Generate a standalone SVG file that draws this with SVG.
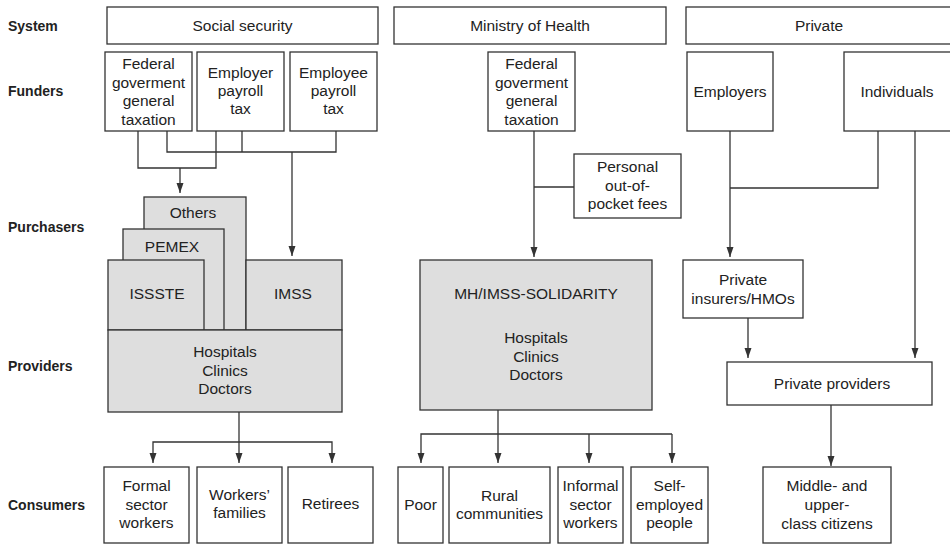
<svg xmlns="http://www.w3.org/2000/svg" width="950" height="544" viewBox="0 0 950 544">
<style>
.b{fill:#ffffff;stroke:#333333;stroke-width:1.3}
.g{fill:#dedede;stroke:#333333;stroke-width:1.3}
.t{font-family:"Liberation Sans",Arial,sans-serif;font-size:15.5px;fill:#222222;text-anchor:middle}
.l{font-family:"Liberation Sans",Arial,sans-serif;font-size:14px;font-weight:bold;fill:#222222}
.c{fill:none;stroke:#333333;stroke-width:1.3}
.a{marker-end:url(#ah)}
</style>
<defs>
<marker id="ah" markerUnits="userSpaceOnUse" markerWidth="10" markerHeight="8" refX="10" refY="4" orient="auto">
<path d="M0,0.5 L10,4 L0,7.5 z" fill="#333333"/>
</marker>
</defs>
<rect width="950" height="544" fill="#ffffff"/>

<g id="row-labels">
<text class="l" x="8" y="31">System</text>
<text class="l" x="8" y="96">Funders</text>
<text class="l" x="8" y="232">Purchasers</text>
<text class="l" x="8" y="371">Providers</text>
<text class="l" x="8" y="510">Consumers</text>
</g>

<g id="connectors">
<!-- social security funders -->
<polyline class="c" points="138,131 138,168 216,168 216,131"/>
<line class="c a" x1="180" y1="168" x2="180" y2="193"/>
<polyline class="c" points="167,131 167,152 336,152 336,131"/>
<line class="c" x1="242" y1="131" x2="242" y2="152"/>
<line class="c a" x1="292" y1="152" x2="292" y2="256"/>
<!-- social security consumers -->
<line class="c a" x1="239" y1="412" x2="239" y2="463"/>
<polyline class="c a" points="239,442 153,442 153,463"/>
<polyline class="c a" points="239,442 332,442 332,463"/>
<!-- ministry of health -->
<line class="c a" x1="534" y1="131" x2="534" y2="257"/>
<line class="c" x1="534" y1="187" x2="574" y2="187"/>
<line class="c a" x1="498" y1="410" x2="498" y2="463"/>
<polyline class="c a" points="498,434 421,434 421,463"/>
<line class="c" x1="498" y1="434" x2="672" y2="434"/>
<line class="c a" x1="589" y1="434" x2="589" y2="463"/>
<line class="c a" x1="672" y1="434" x2="672" y2="463"/>
<!-- private -->
<line class="c a" x1="730" y1="131" x2="730" y2="257"/>
<polyline class="c" points="878,131 878,188 730,188"/>
<line class="c a" x1="915" y1="131" x2="915" y2="358"/>
<line class="c a" x1="748" y1="318" x2="748" y2="358"/>
<line class="c a" x1="831" y1="405" x2="831" y2="466"/>
</g>

<g id="ss-system"><rect class="b" x="107" y="7" width="271" height="37"/><text class="t" x="242.5" y="31">Social security</text></g>
<g id="mh-system"><rect class="b" x="394" y="7" width="272" height="37"/><text class="t" x="530" y="31">Ministry of Health</text></g>
<g id="pr-system"><rect class="b" x="686" y="7" width="270" height="37"/><text class="t" x="819" y="31">Private</text></g>

<g id="ss-federal"><rect class="b" x="105" y="52" width="87" height="79"/>
<text class="t" x="148.5" y="69">Federal</text><text class="t" x="148.5" y="87.5">goverment</text><text class="t" x="148.5" y="106">general</text><text class="t" x="148.5" y="124.5">taxation</text></g>
<g id="ss-employer"><rect class="b" x="197" y="52" width="87" height="79"/>
<text class="t" x="240.5" y="78">Employer</text><text class="t" x="240.5" y="96">payroll</text><text class="t" x="240.5" y="114">tax</text></g>
<g id="ss-employee"><rect class="b" x="290" y="52" width="87" height="79"/>
<text class="t" x="333.5" y="78">Employee</text><text class="t" x="333.5" y="96">payroll</text><text class="t" x="333.5" y="114">tax</text></g>

<g id="mh-federal"><rect class="b" x="488" y="52" width="87" height="79"/>
<text class="t" x="531.5" y="69">Federal</text><text class="t" x="531.5" y="87.5">goverment</text><text class="t" x="531.5" y="106">general</text><text class="t" x="531.5" y="124.5">taxation</text></g>
<g id="mh-personal"><rect class="b" x="574" y="154" width="107" height="64"/>
<text class="t" x="627.5" y="172">Personal</text><text class="t" x="627.5" y="191">out-of-</text><text class="t" x="627.5" y="209">pocket fees</text></g>

<g id="pr-employers"><rect class="b" x="687" y="52" width="86" height="79"/><text class="t" x="730" y="97">Employers</text></g>
<g id="pr-individuals"><rect class="b" x="844" y="52" width="112" height="79"/><text class="t" x="897" y="97">Individuals</text></g>

<g id="ss-others"><rect class="g" x="144" y="197" width="102" height="133"/><text class="t" x="193" y="218">Others</text></g>
<g id="ss-pemex"><rect class="g" x="123" y="229" width="101" height="101"/><text class="t" x="172" y="252">PEMEX</text></g>
<g id="ss-issste"><rect class="g" x="108" y="260" width="96" height="70"/><text class="t" x="157" y="299">ISSSTE</text></g>
<g id="ss-imss"><rect class="g" x="246" y="260" width="96" height="70"/><text class="t" x="293" y="299">IMSS</text></g>
<g id="ss-providers"><rect class="g" x="108" y="330" width="234" height="82"/>
<text class="t" x="225" y="357">Hospitals</text><text class="t" x="225" y="375.5">Clinics</text><text class="t" x="225" y="394">Doctors</text></g>

<g id="mh-solidarity"><rect class="g" x="420" y="260" width="232" height="150"/>
<text class="t" x="536" y="299">MH/IMSS-SOLIDARITY</text>
<text class="t" x="536" y="343">Hospitals</text><text class="t" x="536" y="361.5">Clinics</text><text class="t" x="536" y="380">Doctors</text></g>

<g id="pr-insurers"><rect class="b" x="683" y="260" width="120" height="58"/>
<text class="t" x="743" y="285">Private</text><text class="t" x="743" y="304">insurers/HMOs</text></g>
<g id="pr-providers"><rect class="b" x="727" y="362" width="205" height="43"/><text class="t" x="832" y="389">Private providers</text></g>

<g id="c-formal"><rect class="b" x="104" y="467" width="85" height="76"/>
<text class="t" x="146.5" y="491">Formal</text><text class="t" x="146.5" y="509.5">sector</text><text class="t" x="146.5" y="528">workers</text></g>
<g id="c-families"><rect class="b" x="197" y="467" width="85" height="76"/>
<text class="t" x="239.5" y="500">Workers’</text><text class="t" x="239.5" y="518">families</text></g>
<g id="c-retirees"><rect class="b" x="288" y="467" width="85" height="76"/><text class="t" x="330.5" y="509">Retirees</text></g>
<g id="c-poor"><rect class="b" x="398" y="467" width="45" height="76"/><text class="t" x="420.5" y="510">Poor</text></g>
<g id="c-rural"><rect class="b" x="449" y="467" width="101" height="76"/>
<text class="t" x="499.5" y="501">Rural</text><text class="t" x="499.5" y="519">communities</text></g>
<g id="c-informal"><rect class="b" x="558" y="467" width="65" height="76"/>
<text class="t" x="590.5" y="491">Informal</text><text class="t" x="590.5" y="509.5">sector</text><text class="t" x="590.5" y="528">workers</text></g>
<g id="c-self"><rect class="b" x="631" y="467" width="77" height="76"/>
<text class="t" x="669.5" y="491">Self-</text><text class="t" x="669.5" y="509.5">employed</text><text class="t" x="669.5" y="528">people</text></g>
<g id="c-middle"><rect class="b" x="763" y="467" width="128" height="76"/>
<text class="t" x="827" y="491">Middle- and</text><text class="t" x="827" y="510">upper-</text><text class="t" x="827" y="529">class citizens</text></g>
</svg>
